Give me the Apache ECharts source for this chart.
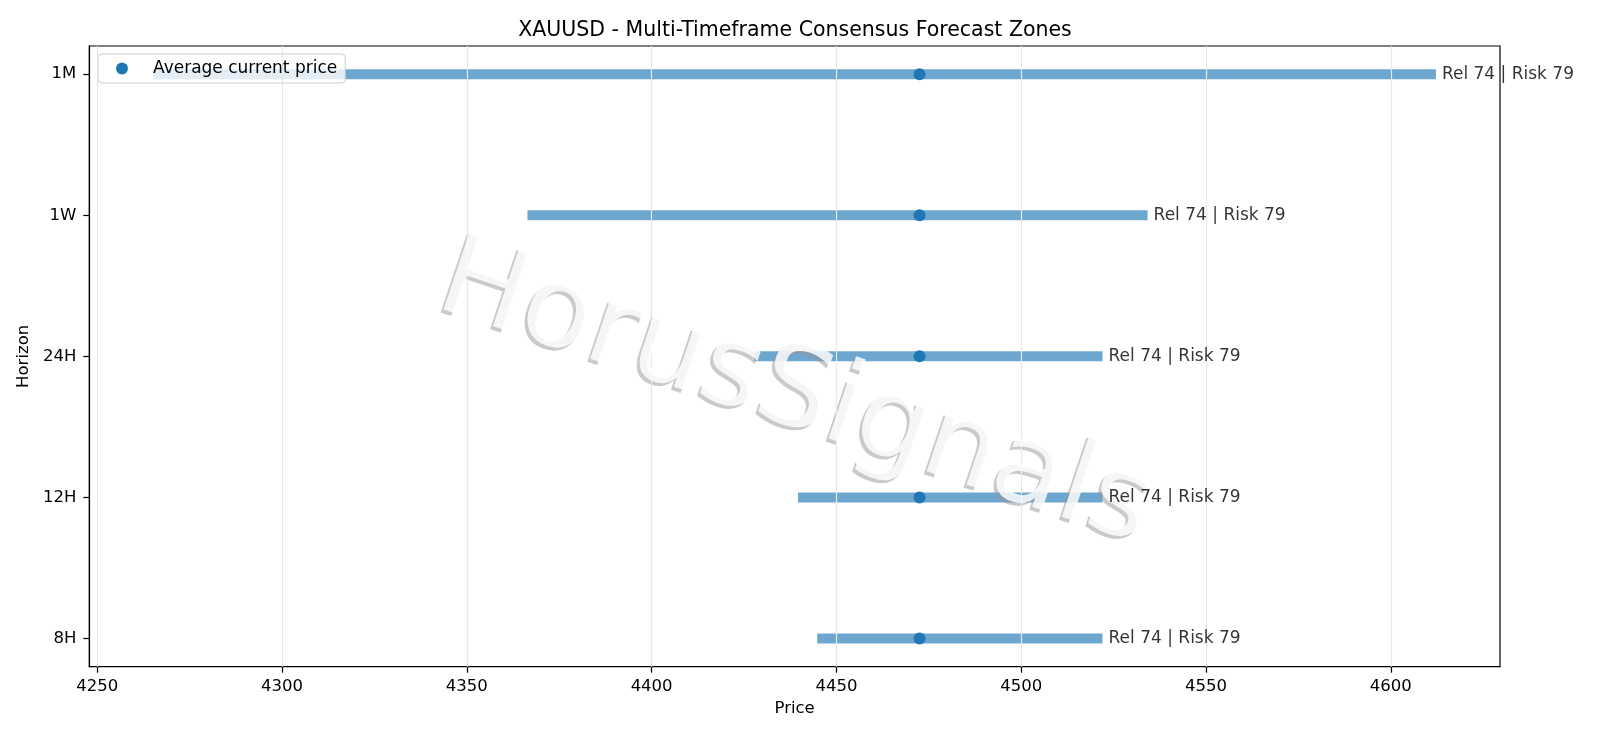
<!DOCTYPE html>
<html>
<head>
<meta charset="utf-8">
<title>XAUUSD - Multi-Timeframe Consensus Forecast Zones</title>
<script src="https://cdn.jsdelivr.net/npm/echarts@6.0.0/dist/echarts.min.js"></script>
<style>
  html, body { margin: 0; padding: 0; background: #fff; }
  #chart { width: 1600px; height: 738px; }
</style>
</head>
<body>
<div id="chart"></div>
<script>
// horizons from bottom (y = 0) to top
var horizons = ['8H', '12H', '24H', '1W', '1M'];
var zoneLow = [4444.8, 4439.6, 4427.8, 4366.4, 4265.2];
var zoneHigh = [4522.0, 4522.0, 4522.0, 4534.2, 4612.2];
var currentPrice = [4472.5, 4472.5, 4472.5, 4472.5, 4472.5];
var relScore = [74, 74, 74, 74, 74];
var riskScore = [79, 79, 79, 79, 79];
var xTicks = [4250, 4300, 4350, 4400, 4450, 4500, 4550, 4600];
var yTicks = [0, 1, 2, 3, 4];

var font = 'DejaVu Sans';
var myChart = echarts.init(document.getElementById('chart'));

var zoneData = [];
var priceData = [];
var labelData = [];
for (var i = 0; i < horizons.length; i++) {
    zoneData.push([zoneLow[i], zoneHigh[i], i]);
    priceData.push([currentPrice[i], i]);
    labelData.push({ value: [zoneHigh[i], i], rel: relScore[i], risk: riskScore[i] });
}

var wmAngle = -18.5 * Math.PI / 180;

var option = {
    backgroundColor: '#ffffff',
    animation: false,
    textStyle: { fontFamily: font },
    title: {
        text: 'XAUUSD - Multi-Timeframe Consensus Forecast Zones',
        left: 790,
        textAlign: 'center',
        top: 15,
        textStyle: { fontFamily: font, fontSize: 20.5, fontWeight: 'normal', color: '#000' }
    },
    legend: {
        data: [{ name: 'Average current price', icon: 'circle' }],
        left: 98,
        top: 54,
        itemWidth: 12,
        itemHeight: 12,
        padding: [6, 8, 6, 18],
        backgroundColor: 'rgba(255,255,255,0.8)',
        borderColor: '#cccccc',
        borderWidth: 1,
        borderRadius: 4,
        textStyle: { fontFamily: font, fontSize: 17, color: '#000', padding: [0, 0, 0, 20] }
    },
    grid: {
        left: 89.3,
        right: 100,
        top: 46,
        bottom: 71.3,
        show: true,
        borderColor: '#000',
        borderWidth: 1.2,
        backgroundColor: 'transparent'
    },
    xAxis: {
        type: 'value',
        min: 4247.85,
        max: 4629.55,
        name: 'Price',
        nameLocation: 'middle',
        nameGap: 31,
        nameTextStyle: { fontFamily: font, fontSize: 16.5, color: '#000' },
        axisLine: { show: true, onZero: false, lineStyle: { color: '#000', width: 1.2 } },
        axisTick: { show: true, inside: false, length: 6, customValues: xTicks, lineStyle: { color: '#000', width: 1.2 } },
        axisLabel: {
            customValues: xTicks,
            margin: 12,
            fontSize: 16.5,
            color: '#000',
            fontFamily: font,
            formatter: function (v) { return String(v); }
        },
        splitLine: { show: false }
    },
    yAxis: {
        type: 'value',
        min: -0.2,
        max: 4.2,
        name: 'Horizon',
        nameLocation: 'middle',
        nameGap: 50,
        nameRotate: 90,
        nameTextStyle: { fontFamily: font, fontSize: 16.5, color: '#000' },
        axisLine: { show: true, onZero: false, lineStyle: { color: '#000', width: 1.2 } },
        axisTick: { show: true, inside: false, length: 6, customValues: yTicks, lineStyle: { color: '#000', width: 1.2 } },
        axisLabel: {
            customValues: yTicks,
            margin: 13,
            fontSize: 16.5,
            color: '#000',
            fontFamily: font,
            formatter: function (v) { return horizons[Math.round(v)]; }
        },
        splitLine: { show: false }
    },
    graphic: [
        {
            // watermark shadow, offset down-left
            type: 'text',
            x: 792,
            y: 399,
            rotation: wmAngle,
            z: 5,
            silent: true,
            style: {
                text: 'HorusSignals',
                fontFamily: font,
                fontSize: 114,
                align: 'center',
                verticalAlign: 'middle',
                fill: 'rgba(150,150,150,0.5)'
            }
        },
        {
            type: 'text',
            x: 795,
            y: 396,
            rotation: wmAngle,
            z: 6,
            silent: true,
            style: {
                text: 'HorusSignals',
                fontFamily: font,
                fontSize: 114,
                align: 'center',
                verticalAlign: 'middle',
                fill: 'rgba(255,255,255,0.82)'
            }
        }
    ],
    series: [
        {
            // vertical grid lines
            name: 'grid',
            type: 'line',
            data: [],
            z: 1,
            silent: true,
            markLine: {
                silent: true,
                symbol: 'none',
                label: { show: false },
                lineStyle: { color: '#e7e7e7', width: 1.2, type: 'solid' },
                data: xTicks.map(function (v) { return { xAxis: v }; })
            }
        },
        {
            name: 'Zone',
            type: 'custom',
            z: 2,
            data: zoneData,
            renderItem: function (params, api) {
                var p1 = api.coord([api.value(0), api.value(2)]);
                var p2 = api.coord([api.value(1), api.value(2)]);
                return {
                    type: 'rect',
                    shape: { x: p1[0], y: p1[1] - 5, width: p2[0] - p1[0], height: 10 },
                    style: { fill: 'rgba(31,119,180,0.65)' }
                };
            }
        },
        {
            name: 'Average current price',
            type: 'scatter',
            z: 3,
            symbolSize: 12,
            data: priceData,
            itemStyle: { color: '#1f77b4', opacity: 1 }
        },
        {
            name: 'labels',
            type: 'scatter',
            z: 10,
            symbolSize: 0,
            silent: true,
            data: labelData,
            label: {
                show: true,
                position: 'right',
                distance: 6,
                fontFamily: font,
                fontSize: 17,
                color: '#000',
                formatter: function (p) {
                    return 'Rel ' + p.data.rel + ' | Risk ' + p.data.risk;
                }
            }
        }
    ]
};

myChart.setOption(option);
</script>
</body>
</html>
